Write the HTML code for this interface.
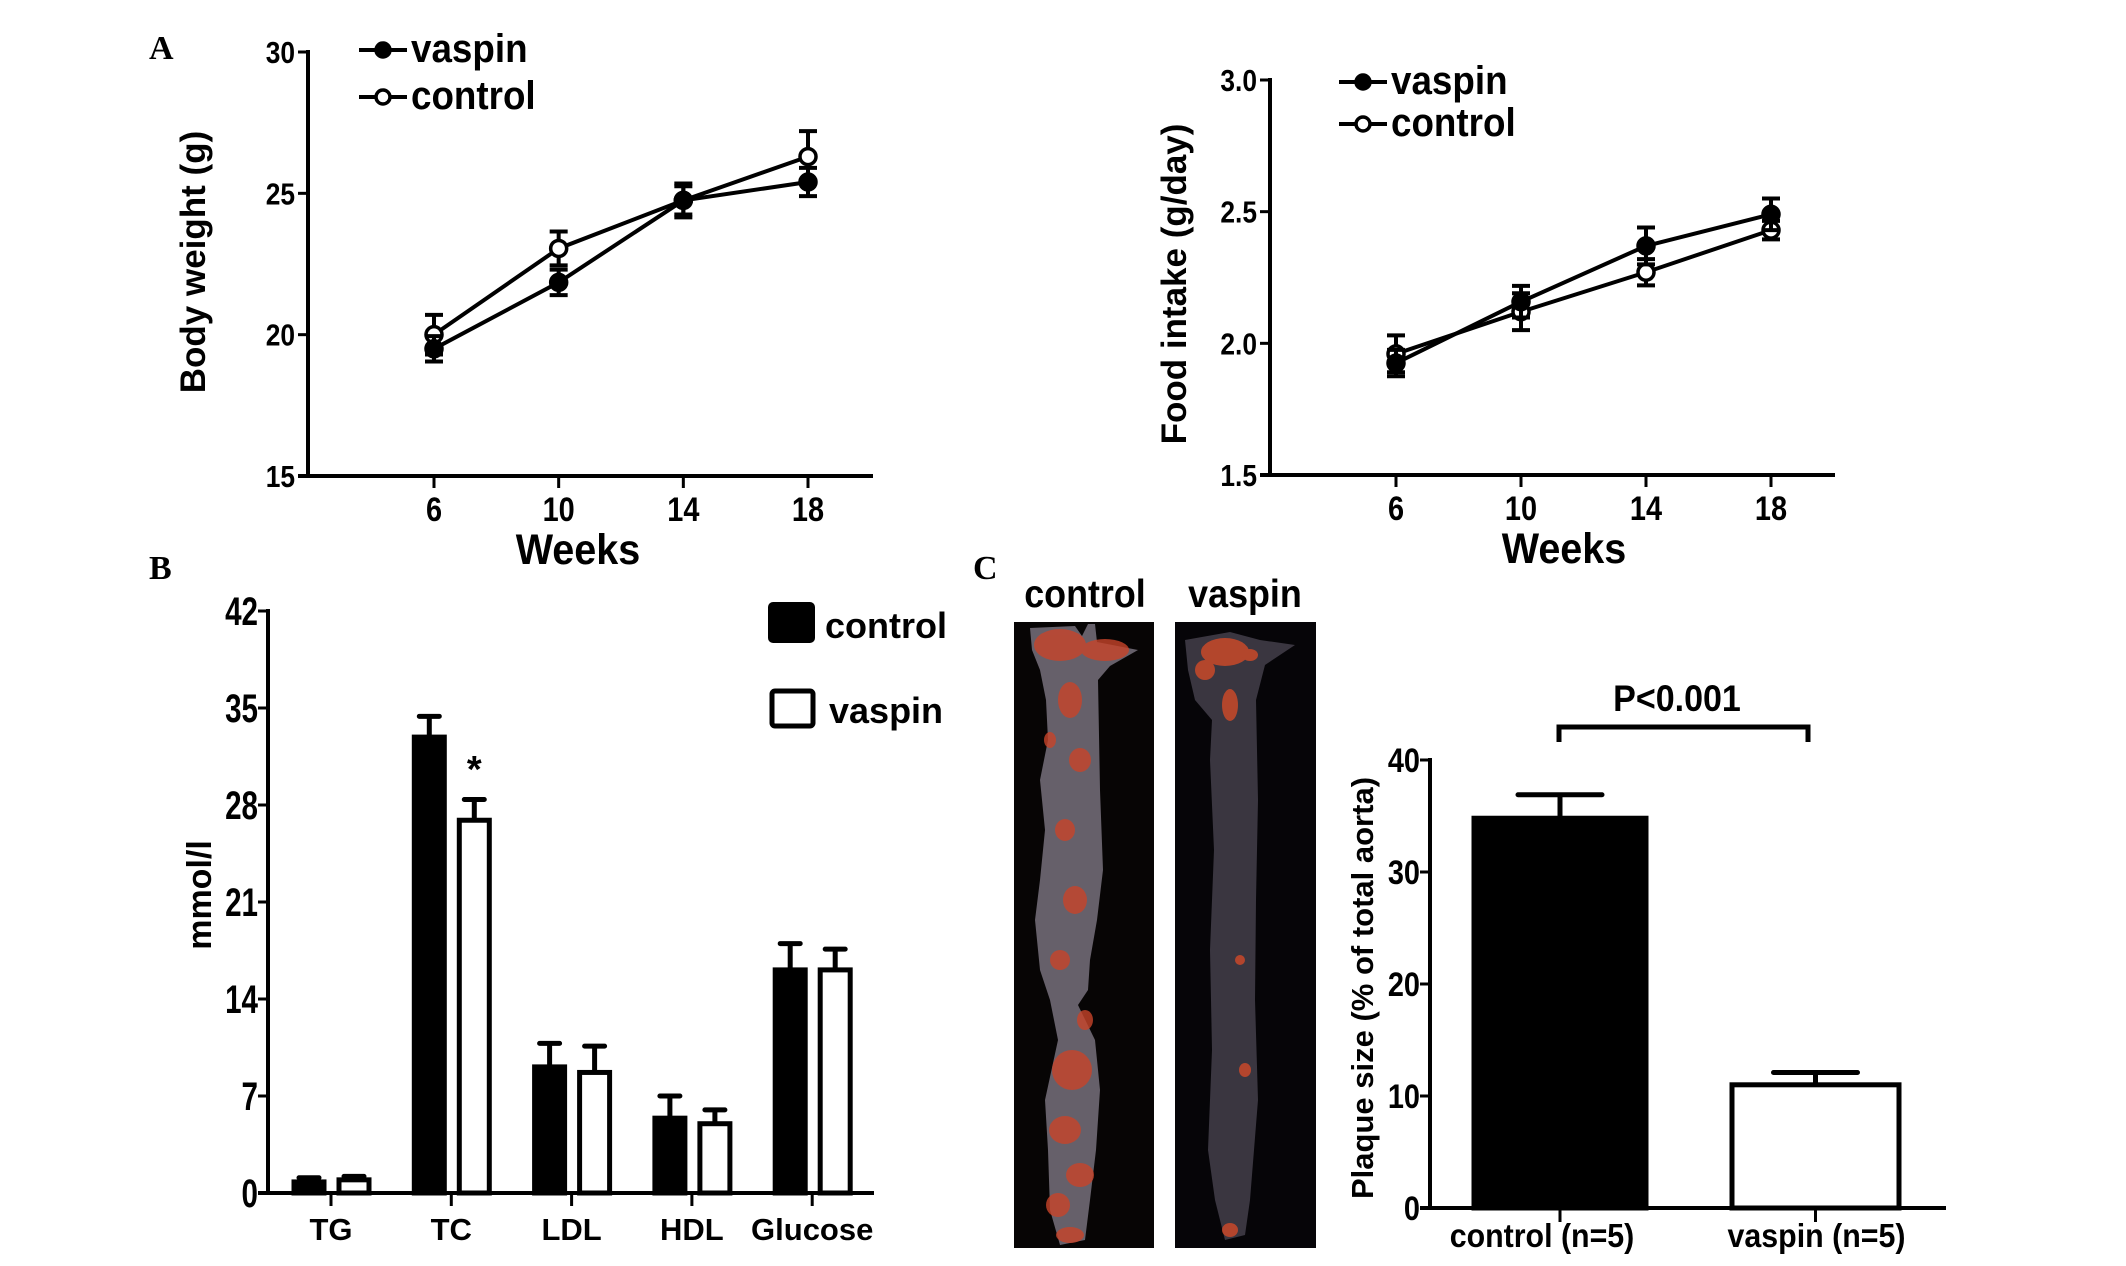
<!DOCTYPE html>
<html><head><meta charset="utf-8">
<style>
html,body{margin:0;padding:0;background:#fff;}
svg{display:block;}
text{font-family:"Liberation Sans Narrow","Liberation Sans",Arial,sans-serif;font-weight:bold;fill:#000;}
.wide{font-family:"Liberation Sans",Arial,sans-serif;}
.serif{font-family:"Liberation Serif",serif;}
</style></head>
<body>
<svg id="fig" width="2126" height="1266" viewBox="0 0 2126 1266" xmlns="http://www.w3.org/2000/svg">
  <text class="serif" x="149" y="59" font-size="34">A</text>
  <text class="serif" x="149" y="579" font-size="34">B</text>
  <text class="serif" x="973" y="579" font-size="34">C</text>

  <g id="bw"></g>
  <g id="fi"></g>
  <g id="lip"></g>

  <g>
    <text class="s92" x="1085" y="607" font-size="39" text-anchor="middle">control</text>
    <text class="s92" x="1245" y="607" font-size="39" text-anchor="middle">vaspin</text>
    <rect x="1014" y="622" width="140" height="626" fill="#070505"/>
    <rect x="1175" y="622" width="141" height="626" fill="#060508"/>
    <path d="M1030,628 L1075,626 L1082,636 L1088,624 L1095,624 L1097,642 L1138,650 L1110,666 L1098,680 L1100,790 L1103,870 L1097,920 L1090,960 L1088,990 L1078,1005 L1095,1040 L1100,1090 L1096,1150 L1090,1200 L1085,1240 L1060,1245 L1050,1210 L1048,1150 L1045,1100 L1058,1040 L1050,1000 L1040,970 L1035,920 L1040,880 L1045,830 L1040,780 L1048,740 L1046,700 L1040,670 L1032,650 Z" fill="#66606a"/>
    <g fill="#c8442a" opacity="0.8">
      <ellipse cx="1060" cy="645" rx="26" ry="16"/><ellipse cx="1105" cy="650" rx="24" ry="11"/>
      <ellipse cx="1070" cy="700" rx="12" ry="18"/><ellipse cx="1080" cy="760" rx="11" ry="12"/>
      <ellipse cx="1065" cy="830" rx="10" ry="11"/><ellipse cx="1075" cy="900" rx="12" ry="14"/>
      <ellipse cx="1060" cy="960" rx="10" ry="10"/><ellipse cx="1072" cy="1070" rx="20" ry="20"/>
      <ellipse cx="1065" cy="1130" rx="16" ry="14"/><ellipse cx="1080" cy="1175" rx="14" ry="12"/>
      <ellipse cx="1058" cy="1205" rx="12" ry="12"/><ellipse cx="1070" cy="1235" rx="14" ry="8"/>
      <ellipse cx="1085" cy="1020" rx="8" ry="10"/><ellipse cx="1050" cy="740" rx="6" ry="8"/>
    </g>
    <path d="M1185,640 L1230,632 L1260,640 L1295,645 L1265,665 L1256,700 L1258,800 L1256,900 L1255,1000 L1258,1100 L1250,1200 L1245,1235 L1225,1240 L1215,1200 L1208,1150 L1212,1050 L1210,950 L1214,850 L1210,760 L1212,720 L1195,700 L1188,670 Z" fill="#3a3640"/>
    <g fill="#d24a28" opacity="0.8">
      <ellipse cx="1225" cy="652" rx="24" ry="14"/><ellipse cx="1205" cy="670" rx="10" ry="10"/>
      <ellipse cx="1230" cy="705" rx="8" ry="16"/><ellipse cx="1250" cy="655" rx="8" ry="6"/>
      <ellipse cx="1240" cy="960" rx="5" ry="5"/><ellipse cx="1245" cy="1070" rx="6" ry="7"/>
      <ellipse cx="1230" cy="1230" rx="8" ry="7"/>
    </g>
  </g>

  <g id="pl"></g>
</svg>
<script>
const weeks = [6, 10, 14, 18];
const weekTicks = ["6", "10", "14", "18"];
const bwVaspin = [19.5, 21.85, 24.75, 25.4];
const bwVaspinErr = [0.45, 0.45, 0.5, 0.5];
const bwControl = [20.0, 23.05, 24.75, 26.3];
const bwControlErr = [0.7, 0.6, 0.6, 0.9];
const bwTicks = [15, 20, 25, 30];

const fiVaspin = [1.925, 2.158, 2.37, 2.49];
const fiVaspinErr = [0.05, 0.06, 0.07, 0.06];
const fiControl = [1.96, 2.12, 2.27, 2.43];
const fiControlErr = [0.07, 0.07, 0.05, 0.035];
const fiTicks = [1.5, 2.0, 2.5, 3.0];
const fiTickLabels = ["1.5", "2.0", "2.5", "3.0"];

const lipCats = ["TG", "TC", "LDL", "HDL", "Glucose"];
const lipControl = [0.8, 32.9, 9.1, 5.4, 16.1];
const lipControlErr = [0.3, 1.5, 1.7, 1.6, 1.9];
const lipVaspin = [0.95, 26.9, 8.7, 5.0, 16.1];
const lipVaspinErr = [0.25, 1.5, 1.9, 1.0, 1.5];
const lipTicks = [0, 7, 14, 21, 28, 35, 42];

const plCats = ["control (n=5)", "vaspin (n=5)"];
const plValues = [34.8, 11.0];
const plErr = [2.1, 1.1];
const plTicks = [0, 10, 20, 30, 40];

const NS = "http://www.w3.org/2000/svg";
function mk(parent, tag, attrs) {
  const e = document.createElementNS(NS, tag);
  for (const k in attrs) e.setAttribute(k, attrs[k]);
  parent.appendChild(e);
  return e;
}
function lin(d0, d1, r0, r1) { return v => r0 + (v - d0) / (d1 - d0) * (r1 - r0); }

function lineChart(gid, cfg) {
  const g = document.getElementById(gid);
  const x = lin(6, 18, cfg.x6, cfg.x18);
  const y = lin(cfg.ymin, cfg.ymax, cfg.y0, cfg.y1);
  let e;
  e = mk(g, "line", {x1: cfg.ax, y1: y(cfg.ymax) - 2, x2: cfg.ax, y2: cfg.y0 + 2, stroke: "#000", "stroke-width": 4});
  
  
  e = mk(g, "line", {x1: cfg.ax - 10, y1: cfg.y0, x2: cfg.xend, y2: cfg.y0, stroke: "#000", "stroke-width": 4});
  
  
  cfg.ticks.forEach((t, i) => {
    e = mk(g, "line", {x1: cfg.ax - 10, y1: y(t), x2: cfg.ax, y2: y(t), stroke: "#000", "stroke-width": 3});
    
    
    e = mk(g, "text", {class: "s85", x: cfg.ax - 13, y: y(t) + 11, "font-size": 31, "text-anchor": "end"});
    e.textContent = cfg.tickLabels[i];
    
    
  });
  weeks.forEach((w, i) => {
    e = mk(g, "line", {x1: x(w), y1: cfg.y0, x2: x(w), y2: cfg.y0 + 12, stroke: "#000", "stroke-width": 3});
    
    
    e = mk(g, "text", {class: "s85", x: x(w), y: cfg.y0 + 45, "font-size": 34, "text-anchor": "middle"});
    e.textContent = weekTicks[i];
    
    
  });
  e = mk(g, "text", {class: "s92", x: cfg.wx, y: cfg.y0 + 88, "font-size": 43, "text-anchor": "middle"});
  e.textContent = "Weeks";
  
  
  e = mk(g, "text", {class: "wide", x: 0, y: 0, "font-size": 35, "text-anchor": "middle", transform: `translate(${cfg.tx},${cfg.ty}) rotate(-90)`});
  e.textContent = cfg.title;
  
  

  const series = [
    {name: "control", v: cfg.control, err: cfg.controlErr, fill: "#fff"},
    {name: "vaspin", v: cfg.vaspin, err: cfg.vaspinErr, fill: "#000"}
  ];
  series.forEach(s => {
    const pts = weeks.map((w, i) => x(w) + "," + y(s.v[i])).join(" ");
    e = mk(g, "polyline", {points: pts, fill: "none", stroke: "#000", "stroke-width": 4});
    
    
    weeks.forEach((w, i) => {
      const cx = x(w), hi = y(s.v[i] + s.err[i]), lo = y(s.v[i] - s.err[i]);
      e = mk(g, "path", {d: `M${cx},${hi}V${lo}M${cx - 9},${hi}H${cx + 9}M${cx - 9},${lo}H${cx + 9}`, stroke: "#000", "stroke-width": 4, fill: "none"});
      
      
      e = mk(g, "circle", {cx: cx, cy: y(s.v[i]), r: 8, fill: s.fill, stroke: "#000", "stroke-width": 3.5});
      
      
    });
  });
  [["vaspin", "#000", cfg.lg1], ["control", "#fff", cfg.lg2]].forEach(([n, f, ly]) => {
    e = mk(g, "line", {x1: cfg.lx, y1: ly, x2: cfg.lx + 48, y2: ly, stroke: "#000", "stroke-width": 4});
    
    
    e = mk(g, "circle", {cx: cfg.lx + 24, cy: ly, r: 7, fill: f, stroke: "#000", "stroke-width": 3.5});
    
    
    e = mk(g, "text", {class: "s92", x: cfg.lx + 52, y: ly + 12, "font-size": 40});
    e.textContent = n;
    
    
  });
}

lineChart("bw", {x6: 434, x18: 808, ax: 308, xend: 873, ymin: 15, ymax: 30, y0: 476, y1: 52,
  ticks: bwTicks, tickLabels: bwTicks.map(String), vaspin: bwVaspin, vaspinErr: bwVaspinErr,
  control: bwControl, controlErr: bwControlErr, wx: 578, title: "Body weight (g)", tx: 205, ty: 262,
  lx: 359, lg1: 50, lg2: 97});
lineChart("fi", {x6: 1396, x18: 1771, ax: 1270, xend: 1835, ymin: 1.5, ymax: 3.0, y0: 475, y1: 80,
  ticks: fiTicks, tickLabels: fiTickLabels, vaspin: fiVaspin, vaspinErr: fiVaspinErr,
  control: fiControl, controlErr: fiControlErr, wx: 1564, title: "Food intake (g/day)", tx: 1186, ty: 284,
  lx: 1339, lg1: 82, lg2: 124});

(function(){
  const g = document.getElementById("lip");
  const y = lin(0, 42, 1193, 611);
  const cx = i => 331 + i * 120.3;
  let e;
  e = mk(g, "line", {x1: 268, y1: 609, x2: 268, y2: 1195, stroke: "#000", "stroke-width": 4});
  
  
  e = mk(g, "line", {x1: 258, y1: 1193, x2: 874, y2: 1193, stroke: "#000", "stroke-width": 4});
  
  
  lipTicks.forEach(t => {
    e = mk(g, "line", {x1: 258, y1: y(t), x2: 268, y2: y(t), stroke: "#000", "stroke-width": 3});
    
    
    e = mk(g, "text", {class: "s74", x: 258, y: y(t) + 14, "font-size": 40, "text-anchor": "end"});
    e.textContent = String(t);
    
    
  });
  e = mk(g, "text", {class: "wide", x: 0, y: 0, "font-size": 34, "text-anchor": "middle", transform: "translate(211,895) rotate(-90)"});
  e.textContent = "mmol/l";
  
  
  lipCats.forEach((c, i) => {
    const c0 = cx(i);
    e = mk(g, "line", {x1: c0, y1: 1193, x2: c0, y2: 1206, stroke: "#000", "stroke-width": 3});
    
    
    e = mk(g, "text", {class: "wide", x: c0, y: 1240, "font-size": 31, "text-anchor": "middle"});
    e.textContent = c;
    
    
    [[lipControl, lipControlErr, c0 - 39, "#000", "control"], [lipVaspin, lipVaspinErr, c0 + 6, "#fff", "vaspin"]].forEach(([v, er, bx, f, n]) => {
      const top = y(v[i]), hi = y(v[i] + er[i]), mid = bx + 17;
      e = mk(g, "path", {d: `M${mid},${top}V${hi}M${mid - 10},${hi}H${mid + 10}`, stroke: "#000", "stroke-width": 5, "stroke-linecap": "round", fill: "none"});
      
      
      e = mk(g, "rect", {x: bx + 2, y: top, width: 30, height: 1193 - top, fill: f, stroke: "#000", "stroke-width": 5});
      
      
    });
  });
  e = mk(g, "text", {class: "wide", x: cx(1) + 23, y: 782, "font-size": 38, "text-anchor": "middle"});
  e.textContent = "*";
  
  
  e = mk(g, "rect", {x: 770, y: 604, width: 43, height: 37, rx: 3, fill: "#000", stroke: "#000", "stroke-width": 4});
  
  
  e = mk(g, "text", {class: "wide", x: 825, y: 638, "font-size": 36});
  e.textContent = "control";
  
  
  e = mk(g, "rect", {x: 772, y: 691, width: 41, height: 35, rx: 3, fill: "#fff", stroke: "#000", "stroke-width": 5});
  
  
  e = mk(g, "text", {class: "wide", x: 829, y: 723, "font-size": 36});
  e.textContent = "vaspin";
  
  
})();

(function(){
  const g = document.getElementById("pl");
  const y = lin(0, 40, 1208, 760);
  const bars = [{x: 1472, w: 176, f: "#000", dx: -18}, {x: 1730, w: 171, f: "#fff", dx: 1}];
  let e;
  e = mk(g, "line", {x1: 1430, y1: 758, x2: 1430, y2: 1210, stroke: "#000", "stroke-width": 4});
  
  
  e = mk(g, "line", {x1: 1420, y1: 1208, x2: 1946, y2: 1208, stroke: "#000", "stroke-width": 4});
  
  
  plTicks.forEach(t => {
    e = mk(g, "line", {x1: 1420, y1: y(t), x2: 1430, y2: y(t), stroke: "#000", "stroke-width": 3});
    
    
    e = mk(g, "text", {class: "s85", x: 1420, y: y(t) + 12, "font-size": 34, "text-anchor": "end"});
    e.textContent = String(t);
    
    
  });
  e = mk(g, "text", {class: "wide", x: 0, y: 0, "font-size": 31, "text-anchor": "middle", transform: "translate(1373,988) rotate(-90)"});
  e.textContent = "Plaque size (% of total aorta)";
  
  
  plCats.forEach((c, i) => {
    const b = bars[i], mid = b.x + b.w / 2, top = y(plValues[i]), hi = y(plValues[i] + plErr[i]);
    e = mk(g, "path", {d: `M${mid},${top}V${hi}M${mid - 42},${hi}H${mid + 42}`, stroke: "#000", "stroke-width": 5, "stroke-linecap": "round", fill: "none"});
    
    
    e = mk(g, "rect", {x: b.x + 2, y: top, width: b.w - 4, height: 1208 - top, fill: b.f, stroke: "#000", "stroke-width": 5});
    
    
    e = mk(g, "line", {x1: mid, y1: 1208, x2: mid, y2: 1222, stroke: "#000", "stroke-width": 3});
    
    
    e = mk(g, "text", {class: "s92", x: mid + b.dx, y: 1247, "font-size": 33, "text-anchor": "middle"});
    e.textContent = c;
    
    
  });
  e = mk(g, "path", {d: "M1559,742V727H1808V742", stroke: "#000", "stroke-width": 5, "fill": "none"});
  
  
  e = mk(g, "text", {class: "s92", x: 1677, y: 711, "font-size": 37, "text-anchor": "middle"});
  e.textContent = "P<0.001";
  
  
})();

document.querySelectorAll('text').forEach(t => {
  const m = (t.getAttribute('class') || '').match(/s(\d+)/);
  if (!m) return;
  const f = parseInt(m[1]) / 100;
  const ax = parseFloat(t.getAttribute('x'));
  t.setAttribute('transform', `translate(${ax},0) scale(${f},1) translate(${-ax},0)`);
});
</script>
</body></html>
